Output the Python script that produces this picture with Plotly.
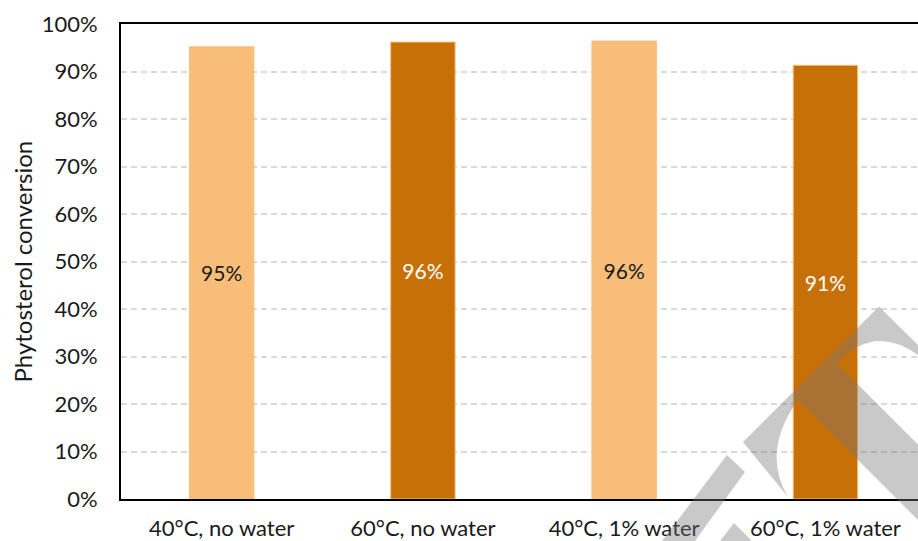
import plotly.graph_objects as go

# Data
conditions = ["40°C, no water", "60°C, no water", "40°C, 1% water", "60°C, 1% water"]
conversion = [0.952, 0.962, 0.964, 0.913]
bar_colors = ["#F8BD78", "#C87008", "#F8BD78", "#C87008"]
label_colors = ["#1a1a1a", "#ffffff", "#1a1a1a", "#ffffff"]
y_ticks = [0.0, 0.1, 0.2, 0.3, 0.4, 0.5, 0.6, 0.7, 0.8, 0.9, 1.0]

W, H = 918, 541
ML, MR, MT, MB = 121, 0, 24, 42
PW, PH = W - ML - MR, H - MT - MB

FONT = "Lato, 'Open Sans', sans-serif"


def to_paper(px, py):
    return (px - ML) / PW, (H - MB - py) / PH


def path(cmds):
    """Build an SVG path in paper units from pixel-space commands."""
    out = []
    for c in cmds:
        op, pts = c[0], c[1:]
        coords = " ".join("%.5f,%.5f" % to_paper(*p) for p in pts)
        out.append(op + coords if coords else op)
    return " ".join(out)


fig = go.Figure()
fig.add_trace(go.Bar(
    x=conditions,
    y=conversion,
    width=0.32,
    marker=dict(color=bar_colors, line=dict(color="#F8BD78", width=1)),
    text=[f"{v:.0%}" for v in conversion],
    textposition="inside",
    insidetextanchor="middle",
    textangle=0,
    textfont=dict(family=FONT, size=21, color=label_colors),
    hoverinfo="skip",
))

# Faint grey watermark strokes drawn over the chart
wm_fill = "rgba(120,120,120,0.4)"
wm_paths = [
    [("M", (788, 497)), ("L", (743, 442)), ("L", (879, 306.5)), ("L", (922, 349)),
     ("L", (922, 358)), ("Q", (875.6, 321.4), (836.7, 363.3)), ("L", (922, 448.6)),
     ("L", (922, 524)), ("L", (798, 400)), ("Q", (761, 451.5), (788, 497)), ("Z",)],
    [("M", (727, 455)), ("L", (745, 472)), ("L", (692, 545)), ("L", (659, 545)), ("Z",)],
    [("M", (734, 523)), ("L", (751, 540)), ("L", (747, 545)), ("L", (717, 545)), ("Z",)],
]
shapes = [dict(type="path", xref="paper", yref="paper", path=path(p),
               fillcolor=wm_fill, line=dict(width=0), layer="above")
          for p in wm_paths]

fig.update_layout(
    width=W, height=H,
    margin=dict(l=ML, r=MR, t=MT, b=MB, pad=0, autoexpand=False),
    paper_bgcolor="white", plot_bgcolor="white",
    showlegend=False,
    font=dict(family=FONT, size=20, color="#1a1a1a"),
    shapes=shapes,
    annotations=[dict(
        text="Phytosterol conversion", xref="paper", yref="paper",
        x=to_paper(22, 0)[0], y=0.5, xanchor="center", yanchor="middle",
        textangle=-90, showarrow=False,
        font=dict(family=FONT, size=24, color="#1a1a1a"),
    )],
)
fig.update_xaxes(
    type="category", range=[-0.5, 3.46], automargin=False,
    showline=True, linecolor="#000000", linewidth=2, mirror=True,
    showgrid=False, ticks="", ticklabelstandoff=9,
    tickfont=dict(family=FONT, size=22, color="#1a1a1a"),
    fixedrange=True,
)
fig.update_yaxes(
    range=[0, 1], tickvals=y_ticks, tickformat=".0%", automargin=False,
    showline=True, linecolor="#000000", linewidth=2, mirror=False,
    showgrid=True, gridcolor="#D9D9D9", gridwidth=1.5, griddash="6px,4px",
    zeroline=False, ticks="", ticklabelstandoff=17,
    tickfont=dict(family=FONT, size=22, color="#1a1a1a"),
    fixedrange=True,
)

fig.write_html("out.html")
